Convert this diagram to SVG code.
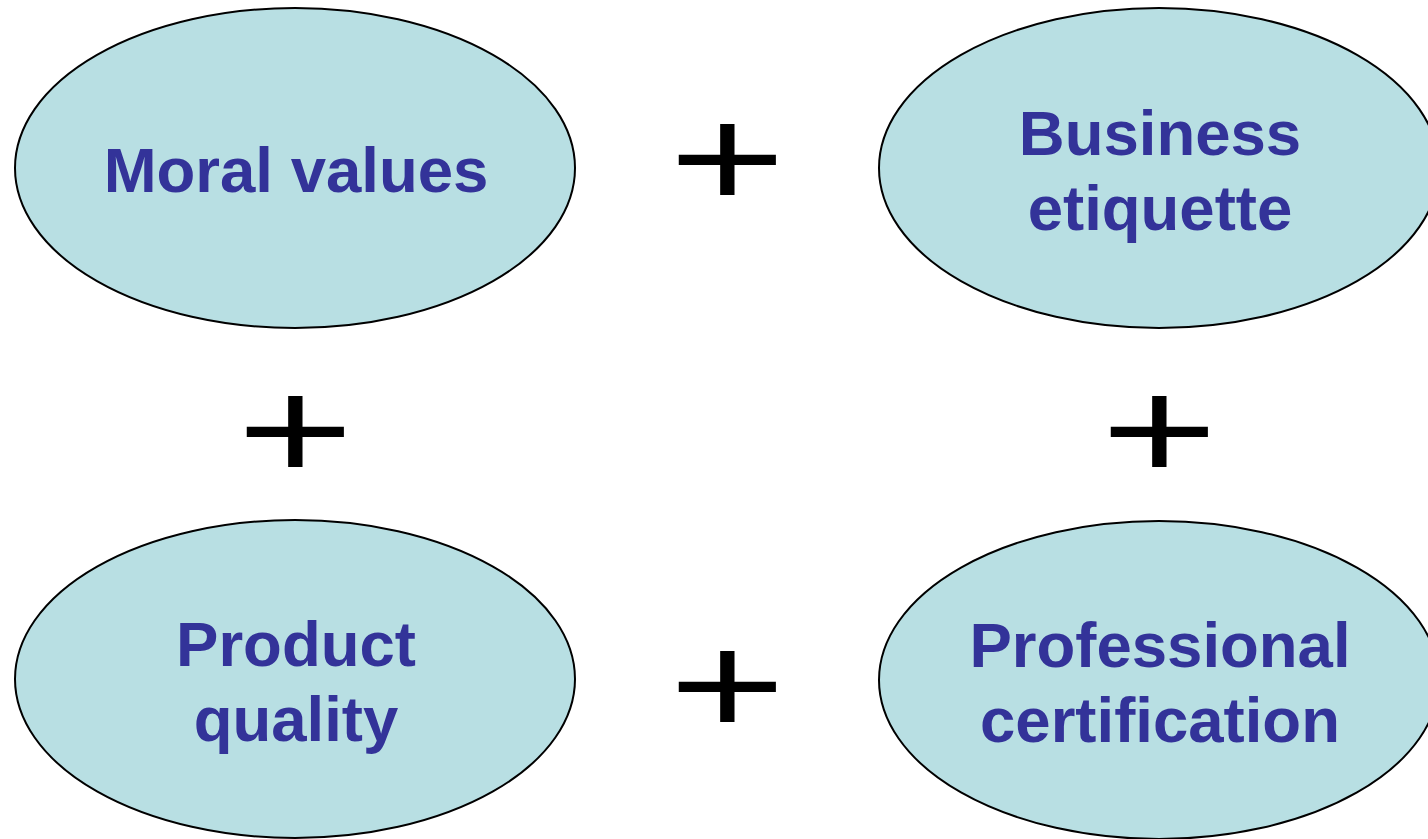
<svg xmlns="http://www.w3.org/2000/svg" width="1428" height="839" viewBox="0 0 1428 839">
<style>
.node{fill:#B8DFE3;stroke:#000;stroke-width:2}
.lbl{font-family:"Liberation Sans",Arial,sans-serif;font-weight:bold;font-size:63.5px;fill:#333399;text-anchor:middle}
.plus{font-family:"Liberation Sans",Arial,sans-serif;font-size:200px;fill:#000;text-anchor:middle}
</style>
<rect width="1428" height="839" fill="#fff"/>
<g id="moral">
<ellipse class="node" cx="295" cy="168" rx="280" ry="160"/>
<text class="lbl" x="296" y="192">Moral values</text>
</g>
<g id="business">
<ellipse class="node" cx="1159" cy="168" rx="280" ry="160"/>
<text class="lbl" x="1160" y="155">Business</text>
<text class="lbl" x="1160" y="230">etiquette</text>
</g>
<g id="product">
<ellipse class="node" cx="295" cy="679" rx="280" ry="159"/>
<text class="lbl" x="296" y="666">Product</text>
<text class="lbl" x="296" y="741">quality</text>
</g>
<g id="professional">
<ellipse class="node" cx="1159" cy="680" rx="280" ry="159"/>
<text class="lbl" x="1160" y="667">Professional</text>
<text class="lbl" x="1160" y="742">certification</text>
</g>
<g id="connectors">
<text class="plus" transform="translate(727.5,160) scale(1,0.72)" x="0" y="66">+</text>
<text class="plus" transform="translate(295.5,432) scale(1,0.72)" x="0" y="66">+</text>
<text class="plus" transform="translate(1159.5,432) scale(1,0.72)" x="0" y="66">+</text>
<text class="plus" transform="translate(727.5,687) scale(1,0.72)" x="0" y="66">+</text>
</g>
</svg>
